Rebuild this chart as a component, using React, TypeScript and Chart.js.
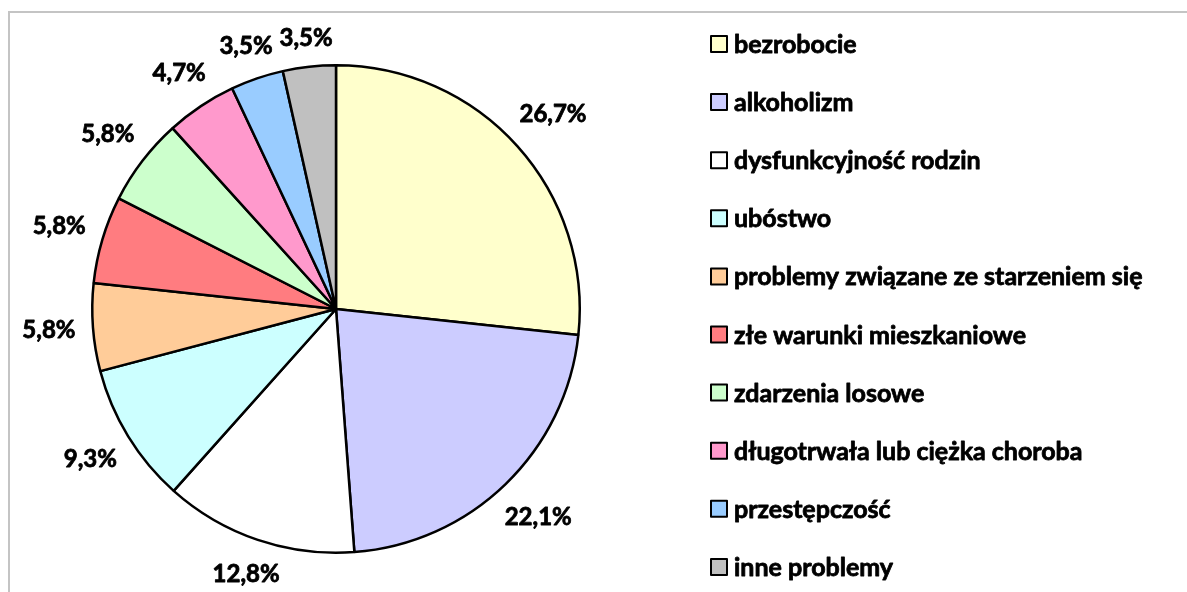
import React, { useEffect, useRef } from "react";
import { Chart, registerables } from "chart.js";

Chart.register(...registerables);

const categories = [
  "bezrobocie",
  "alkoholizm",
  "dysfunkcyjność rodzin",
  "ubóstwo",
  "problemy związane ze starzeniem się",
  "złe warunki mieszkaniowe",
  "zdarzenia losowe",
  "długotrwała lub ciężka choroba",
  "przestępczość",
  "inne problemy",
];
const values = [26.7, 22.1, 12.8, 9.3, 5.8, 5.8, 5.8, 4.7, 3.5, 3.5];
const colors = [
  "#FFFFCC",
  "#CCCCFF",
  "#FFFFFF",
  "#CCFFFF",
  "#FFCC99",
  "#FF7C80",
  "#CCFFCC",
  "#FF99CC",
  "#99CCFF",
  "#C0C0C0",
];

const FONT_FAMILY = "Lato, 'Open Sans', sans-serif";
const LABEL_FONT = `bold 24px ${FONT_FAMILY}`;
const LEGEND_FONT = `bold 25px ${FONT_FAMILY}`;

const fmt = (v: number) => v.toFixed(1).replace(".", ",") + "%";

function boldText(ctx: CanvasRenderingContext2D, txt: string, x: number, y: number) {
  ctx.fillText(txt, x, y);
  ctx.lineWidth = 0.8;
  ctx.strokeStyle = "#000000";
  ctx.lineJoin = "round";
  ctx.strokeText(txt, x, y);
}

const decoPlugin = {
  id: "deco",
  beforeDraw(chart: any) {
    const ctx = chart.ctx;
    ctx.save();
    ctx.strokeStyle = "#C4C4C4";
    ctx.lineWidth = 2;
    ctx.beginPath();
    ctx.moveTo(9, 700);
    ctx.lineTo(9, 12);
    ctx.lineTo(1300, 12);
    ctx.stroke();
    ctx.restore();
  },
  afterDatasetsDraw(chart: any) {
    const ctx = chart.ctx;
    const meta = chart.getDatasetMeta(0);
    ctx.save();
    ctx.font = LABEL_FONT;
    ctx.fillStyle = "#000000";
    ctx.textAlign = "center";
    ctx.textBaseline = "middle";
    const gap = 17;
    meta.data.forEach((arc: any, i: number) => {
      const p = arc.getProps(["x", "y", "startAngle", "endAngle", "outerRadius"], true);
      const mid = (p.startAngle + p.endAngle) / 2;
      const txt = fmt(values[i]);
      const w = ctx.measureText(txt).width;
      const h = 18;
      const c = Math.cos(mid);
      const s = Math.sin(mid);
      const d = p.outerRadius + gap + Math.abs(c) * (w / 2) + Math.abs(s) * (h / 2);
      boldText(ctx, txt, p.x + c * d, p.y + s * d);
    });

    // legend
    const boxX = 711;
    const firstY = 44;
    const step = 58.1;
    const box = 16;
    ctx.font = LEGEND_FONT;
    ctx.textAlign = "left";
    categories.forEach((name, i) => {
      const cy = firstY + i * step;
      ctx.fillStyle = colors[i];
      ctx.fillRect(boxX, cy - box / 2, box, box);
      ctx.strokeStyle = "#000000";
      ctx.lineWidth = 2;
      ctx.strokeRect(boxX, cy - box / 2, box, box);
      ctx.fillStyle = "#000000";
      boldText(ctx, name, boxX + 23, cy + 1);
    });
    ctx.restore();
  },
};

export default function App() {
  const ref = useRef<HTMLCanvasElement | null>(null);
  useEffect(() => {
    if (!ref.current) return;
    const chart = new Chart(ref.current, {
      type: "pie",
      data: {
        labels: categories,
        datasets: [
          {
            data: values,
            backgroundColor: colors,
            borderColor: "#000000",
            borderWidth: 2.5,
          },
        ],
      },
      options: {
        animation: false,
        responsive: true,
        maintainAspectRatio: false,
        layout: { padding: { left: 91, top: 64, right: 606, bottom: 38 } },
        plugins: {
          legend: { display: false },
          tooltip: { enabled: false },
        },
      },
      plugins: [decoPlugin],
    });
    return () => chart.destroy();
  }, []);
  return (
    <div style={{ position: "fixed", left: 0, top: 0, width: 1187, height: 592, background: "#fff" }}>
      <canvas ref={ref} />
    </div>
  );
}
